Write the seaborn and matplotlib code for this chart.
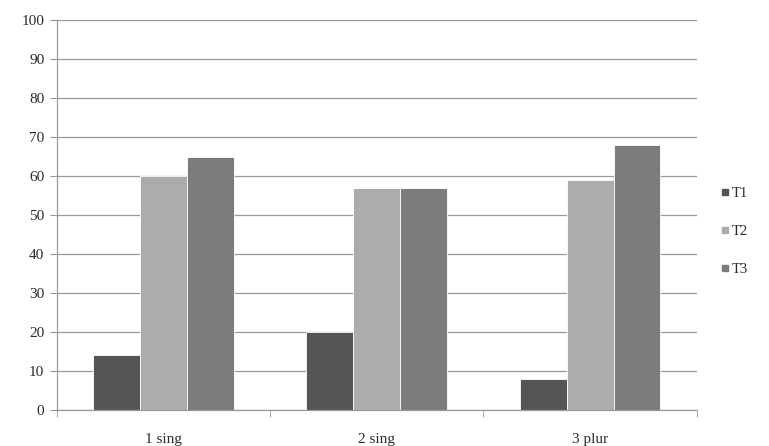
import matplotlib
matplotlib.use("Agg")
import matplotlib.pyplot as plt
import seaborn as sns
import pandas as pd
import numpy as np
from matplotlib.lines import Line2D

categories = ["1 sing", "2 sing", "3 plur"]
series = ["T1", "T2", "T3"]
t1 = [14, 20, 8]
t2 = [60, 57, 59]
t3 = [65, 57, 68]
colors = ["#555555", "#acacac", "#7c7c7c"]

df = pd.DataFrame({
    "cat": categories * 3,
    "series": ["T1"] * 3 + ["T2"] * 3 + ["T3"] * 3,
    "value": t1 + t2 + t3,
})

sns.set_style("white")
plt.rcParams["font.family"] = ["Liberation Serif", "DejaVu Serif"]

fig = plt.figure(figsize=(7.69, 4.46), dpi=100)
ax = fig.add_axes([0.074, 0.081, 0.832, 0.874])

sns.barplot(data=df, x="cat", y="value", hue="series", palette=colors,
            width=0.66, edgecolor="white", linewidth=0.6, ax=ax, legend=False)

ax.set_ylim(0, 100)
ax.set_xlim(-0.5, 2.5)
ax.set_yticks(np.arange(0, 101, 10))
ax.yaxis.grid(True, color="#9a9a9a", linewidth=0.9)
ax.set_axisbelow(True)
ax.set_xlabel("")
ax.set_ylabel("")

for s in ["top", "right"]:
    ax.spines[s].set_visible(False)
for s in ["left", "bottom"]:
    ax.spines[s].set_color("#999999")
    ax.spines[s].set_linewidth(0.9)

ax.tick_params(axis="y", which="major", length=5, color="#999999", labelsize=11,
               labelcolor="#2a2a2a", left=True, pad=4)
ax.tick_params(axis="x", which="major", length=0, labelsize=11, labelcolor="#2a2a2a", pad=17)
ax.set_xticks([-0.5, 0.5, 1.5, 2.5], minor=True)
ax.tick_params(axis="x", which="minor", length=5, color="#999999", bottom=True)

handles = [Line2D([0], [0], marker="s", linestyle="", color=c, markersize=5) for c in colors]
fig.legend(handles, series, loc="center left", bbox_to_anchor=(0.918, 0.482),
           frameon=False, fontsize=10.5, handletextpad=0.05, labelspacing=1.7,
           handlelength=0.8, labelcolor="#2a2a2a")

fig.savefig("out.png", dpi=100)
